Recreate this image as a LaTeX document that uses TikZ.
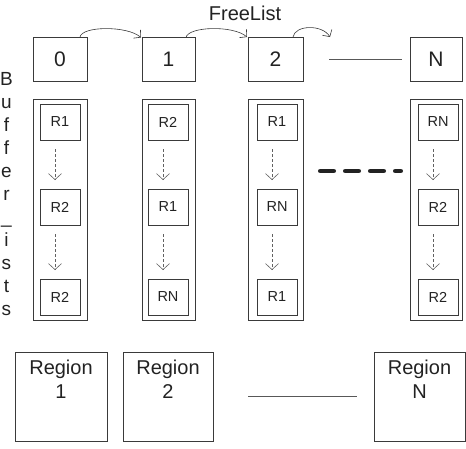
\documentclass[tikz,border=0pt]{standalone}
\usepackage{fontspec}
\setmainfont{Liberation Sans}
\usetikzlibrary{arrows.meta,calc}
\definecolor{ink}{HTML}{222222}
\definecolor{edge}{HTML}{3A3A3A}
\tikzset{
  x=1pt, y=-1pt,
  every node/.style={text=ink, inner sep=0pt, outer sep=0pt},
  topbox/.style={draw=edge, line width=0.8pt, minimum height=44pt, font=\fontsize{21}{25}\selectfont},
  colbox/.style={draw=edge, line width=0.8pt, minimum height=221pt},
  rbox/.style={draw=edge, line width=0.8pt, minimum width=40pt, minimum height=36pt, font=\fontsize{14.5}{17}\selectfont},
  regbox/.style={draw=edge, line width=0.8pt, minimum height=89pt},
  regtext/.style={anchor=north, align=center, font=\fontsize{20}{24}\selectfont},
  letter/.style={font=\fontsize{19}{23}\selectfont, anchor=base},
  freearrow/.style={draw=edge, line width=0.6pt, -{Straight Barb[length=5pt,width=11pt]}},
  chain/.style={draw=edge!80, line width=0.6pt, dash pattern=on 3pt off 2pt, -{Straight Barb[length=6pt,width=13pt]}},
  thin/.style={draw=edge!85, line width=0.7pt},
  thick dash/.style={draw=ink, line width=4.8pt, line cap=round, dash pattern=on 13.2pt off 11.8pt}
}
\begin{document}
\begin{tikzpicture}
\useasboundingbox (0,0) rectangle (466,448);
% FreeList title
\node[font=\fontsize{20}{24}\selectfont] (title) at (245,13) {FreeList};
% left vertical text
\foreach \l [count=\i] in {B,u,f,f,e,r,\_,i,s,t,s}{
  \node[letter] (let\i) at (6.5,{85+23*(\i-1)}) {\l};
}
% top boxes
\node[topbox, minimum width=54pt] (b0) at (60,59) {0};
\node[topbox, minimum width=53pt] (b1) at (168.5,59.5) {1};
\node[topbox, minimum width=55pt] (b2) at (275.5,59) {2};
\node[topbox, minimum width=52pt] (bN) at (436,59) {N};
\coordinate (fend) at (330,37);
\draw[freearrow] ($(b0.north east)+(-7,0)$) .. controls +(2,-11) and +(-14,-12) .. ($(b1.north west)+(-1,0)$);
\draw[freearrow] ($(b1.north east)+(-9,0)$) .. controls +(2,-11) and +(-14,-12) .. ($(b2.north west)+(-1,0)$);
\draw[freearrow] ($(b2.north east)+(-10,0)$) .. controls +(2,-12) and +(-8,-13) .. (fend);
\draw[thin] ($(b2.east)+(26,0)$) -- ($(bN.west)+(-8,0)$);
% columns
\node[colbox, minimum width=54pt] (c1) at (60,209.5) {};
\node[colbox, minimum width=53pt] (c2) at (168.5,209.5) {};
\node[colbox, minimum width=55pt] (c3) at (275.5,209.5) {};
\node[colbox, minimum width=52pt] (c4) at (436,209.5) {};
% inner boxes
\foreach \c/\x/\a/\b/\d in {1/60/R1/R2/R2, 2/168/R2/R1/RN, 3/277/R1/RN/R1, 4/438/RN/R2/R2}{
  \node[rbox] (r\c a) at (\x,122) {\a};
  \node[rbox] (r\c b) at (\x,207) {\b};
  \node[rbox] (r\c c) at (\x,297) {\d};
  \draw[chain] ($(r\c a.south)+(-5,9)$) -- ($(r\c b.north)+(-5,-9)$);
  \draw[chain] ($(r\c b.south)+(-5,9)$) -- ($(r\c c.north)+(-5,-9)$);
}
% thick dashed line
\coordinate (td1) at (320.4,171);
\coordinate (td2) at (400.6,171);
\draw[thick dash] (td1) -- (td2);
% region boxes
\node[regbox, minimum width=92pt] (g1) at (61,396.5) {};
\node[regbox, minimum width=90pt] (g2) at (168,396.5) {};
\node[regbox, minimum width=91pt] (gN) at (419.5,396.5) {};
\node[regtext] (t1) at ($(g1.north)+(0,8)$) {Region\\1};
\node[regtext] (t2) at ($(g2.north)+(0,8)$) {Region\\2};
\node[regtext] (tN) at ($(gN.north)+(0,8)$) {Region\\N};
\draw[thin] ($(g2.east)+(35,0)$) -- ($(gN.west)+(-17,0)$);
\end{tikzpicture}
\end{document}
